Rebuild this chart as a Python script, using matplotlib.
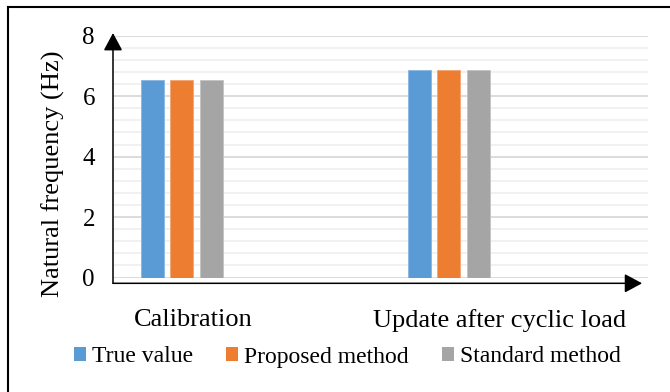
import numpy as np
import matplotlib.pyplot as plt
from matplotlib.patches import Patch
from matplotlib.lines import Line2D

categories = ['Calibration', 'Update after cyclic load']
series = ['True value', 'Proposed method', 'Standard method']
true_value = [6.53, 6.86]
proposed = [6.53, 6.86]
standard = [6.53, 6.86]
colors = ['#5B9BD5', '#ED7D31', '#A5A5A5']
edges = ['#8DB9E3', '#F4A878', '#C4C4C4']

plt.rcParams['font.family'] = 'Liberation Serif'

fig = plt.figure(figsize=(6.7, 3.92), dpi=100)
ax = fig.add_axes([113/670, 1-277.5/392, 535/670, 241.8/392])

x = np.arange(len(categories))
w = 0.0863
step = 0.1107
for i, vals in enumerate([true_value, proposed, standard]):
    ax.bar(x + (i-1)*step, vals, w, color=colors[i], edgecolor=edges[i],
           linewidth=0.7, zorder=3)

ax.set_xlim(-0.2578, 1.7467)
ax.set_ylim(0, 8)
ax.set_yticks([0, 2, 4, 6, 8])
ax.set_yticks(np.arange(0, 8.01, 0.4), minor=True)
ax.grid(axis='y', which='major', color='#D9D9D9', linewidth=1.3, zorder=0)
ax.grid(axis='y', which='minor', color='#F0F0F0', linewidth=1.3, zorder=0)
ax.tick_params(axis='y', which='both', length=0, pad=13, labelsize=18)
ax.set_xticks([])
for s in ax.spines.values():
    s.set_visible(False)

# axes drawn as arrows
arrow = dict(arrowstyle='-|>,head_length=1.08,head_width=0.58', color='black',
             lw=1.1, shrinkA=0, shrinkB=0)
ax.annotate('', xy=(0, 1.011), xytext=(0, -0.024), xycoords='axes fraction',
            arrowprops=arrow, annotation_clip=False)
ax.annotate('', xy=(0.989, -0.024), xytext=(0, -0.024), xycoords='axes fraction',
            arrowprops=arrow, annotation_clip=False)

# category labels
for xpos, name in zip([0.042, 1.192], categories):
    ax.text(xpos, -0.176, name, transform=ax.get_xaxis_transform(),
            ha='center', va='center', fontsize=19)

fig.text(53/670, 1-174/392, 'Natural frequency (Hz)', rotation=90,
         ha='center', va='center', fontsize=19)

handles = [Patch(facecolor=c, edgecolor='none') for c in colors]
fig.legend(handles, series, loc='center', bbox_to_anchor=(347.5/670, 1-357/392),
           ncol=3, frameon=False, fontsize=17, handlelength=0.51, handleheight=0.51,
           handletextpad=0.25, columnspacing=1.4, borderpad=0, borderaxespad=0)

# outer frame
fig.add_artist(Line2D([8/670, 8/670], [0, 1-6.5/392], color='black', lw=1.5,
                      transform=fig.transFigure))
fig.add_artist(Line2D([8/670, 1], [1-6.5/392, 1-6.5/392], color='black', lw=1.5,
                      transform=fig.transFigure))

fig.savefig('out.png', dpi=100)
